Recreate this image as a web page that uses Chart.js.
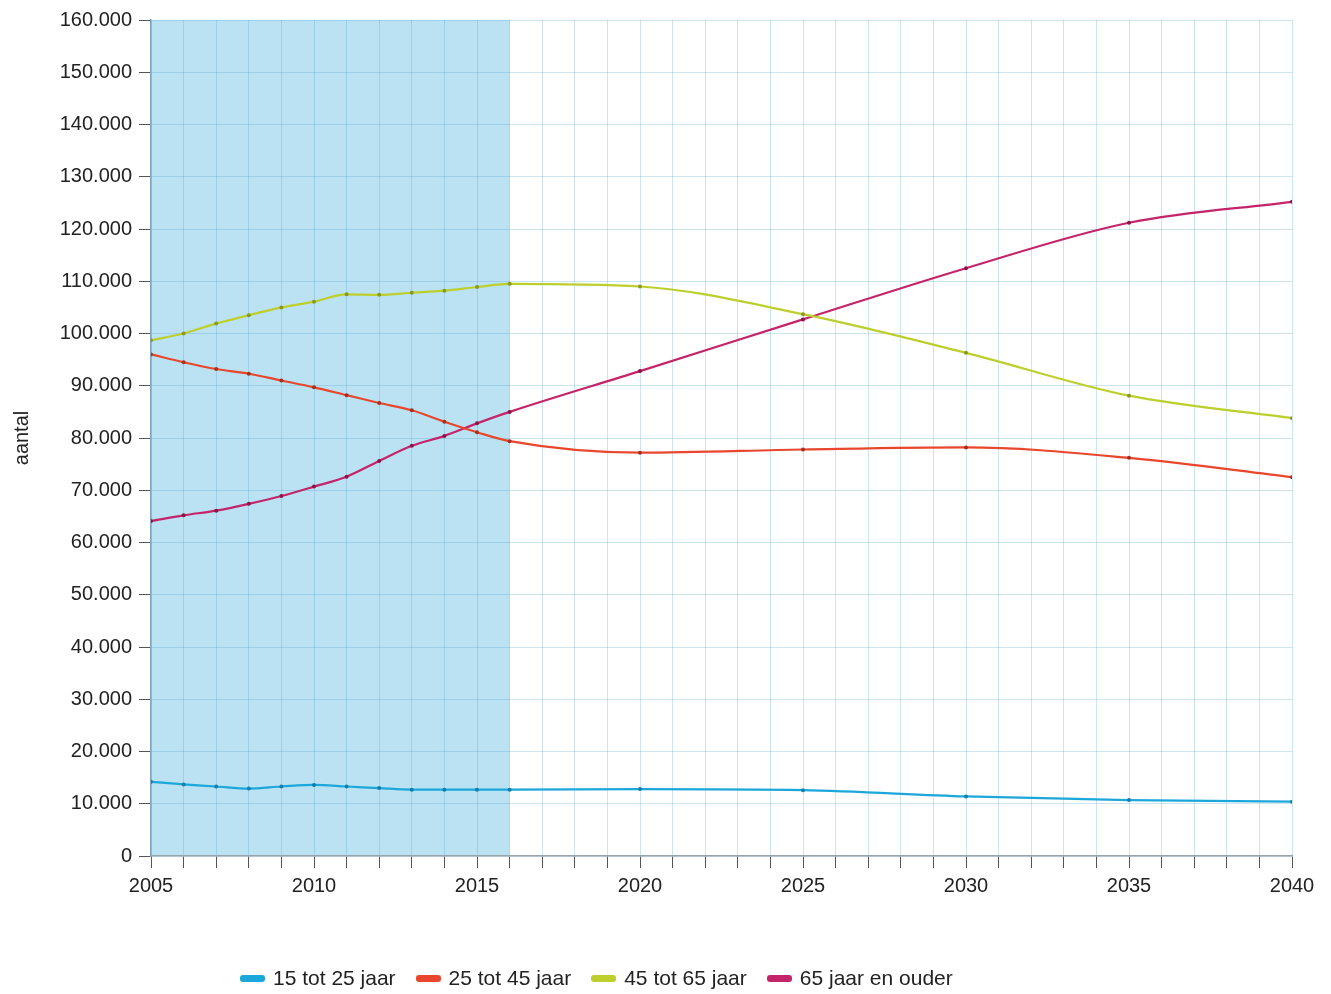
<!DOCTYPE html>
<html>
<head>
<meta charset="utf-8">
<script src="https://cdn.jsdelivr.net/npm/chart.js@4"></script>
<style>
  body { margin: 0; background: #fff; }
  #wrap { position: relative; width: 1331px; height: 994px; }
  #legend { position: absolute; left: 240px; top: 966px; display: flex; font: 21px "Liberation Sans", Arial, sans-serif; color: #222; }
  #legend span.item { display: flex; align-items: center; margin-right: 20px; }
  #legend span.sw { display: inline-block; width: 25px; height: 7px; border-radius: 3px; margin-right: 8px; }
</style>
</head>
<body>
<div id="wrap">
  <canvas id="chart" width="1331" height="994"></canvas>
  <div id="legend"></div>
</div>
<script>
// jaren met datapunten
const years = [2005, 2006, 2007, 2008, 2009, 2010, 2011, 2012, 2013, 2014, 2015, 2016, 2020, 2025, 2030, 2035, 2040];

const age15to25 = [14200, 13700, 13300, 12900, 13300, 13600, 13300, 13000, 12700, 12700, 12700, 12700, 12800, 12600, 11400, 10700, 10400];
const age25to45 = [96000, 94500, 93200, 92300, 91000, 89700, 88200, 86700, 85300, 83100, 81100, 79400, 77200, 77800, 78200, 76200, 72500];
const age45to65 = [98700, 100000, 101900, 103500, 105000, 106100, 107500, 107400, 107800, 108200, 108900, 109500, 109000, 103700, 96300, 88100, 83800];
const age65plus = [64100, 65200, 66100, 67400, 68900, 70700, 72600, 75600, 78500, 80400, 82800, 85000, 92800, 102700, 112500, 121200, 125200];

const seriesNames = ['15 tot 25 jaar', '25 tot 45 jaar', '45 tot 65 jaar', '65 jaar en ouder'];
const seriesColors = ['#1ca7da', '#e8472d', '#bccf2c', '#c4246a'];
const pointColors = ['#0f7fae', '#a8301c', '#8a9a1a', '#8c1446'];

const yTicks = [0, 10000, 20000, 30000, 40000, 50000, 60000, 70000, 80000, 90000, 100000, 110000, 120000, 130000, 140000, 150000, 160000];
const shadeFrom = 2005, shadeTo = 2016;

function fmt(v) {
    return String(v).replace(/\B(?=(\d{3})+(?!\d))/g, '.');
}

const allSeries = [age15to25, age25to45, age45to65, age65plus];
const datasets = allSeries.map((vals, i) => ({
    label: seriesNames[i],
    data: years.map((y, j) => ({ x: y, y: vals[j] })),
    borderColor: seriesColors[i],
    borderWidth: 2.2,
    pointRadius: 2,
    pointBorderWidth: 0,
    pointBackgroundColor: pointColors[i],
    cubicInterpolationMode: 'monotone',
    fill: false
}));

// lichtblauwe achtergrond voor de waargenomen periode
const shadePlugin = {
    id: 'shade',
    beforeDraw(chart) {
        const { ctx, chartArea, scales } = chart;
        const x1 = scales.x.getPixelForValue(shadeFrom);
        const x2 = scales.x.getPixelForValue(shadeTo);
        ctx.save();
        ctx.fillStyle = '#bbe2f3';
        ctx.fillRect(x1, chartArea.top, x2 - x1, chartArea.bottom - chartArea.top);
        ctx.restore();
    }
};

const font = { family: '"Liberation Sans", Arial, sans-serif' };

new Chart(document.getElementById('chart'), {
    type: 'line',
    data: { datasets },
    plugins: [shadePlugin],
    options: {
        responsive: false,
        animation: false,
        layout: { padding: { top: 20, right: 39, left: 0, bottom: 0 } },
        plugins: { legend: { display: false }, tooltip: { enabled: false } },
        scales: {
            x: {
                type: 'linear',
                min: 2005,
                max: 2040,
                afterFit(s) { s.height = 138; },
                border: { color: '#9aa4ab', width: 1.5 },
                grid: { color: 'rgba(90,165,210,0.3)', tickColor: '#555', tickLength: 12, lineWidth: 1 },
                ticks: {
                    stepSize: 1,
                    autoSkip: false,
                    maxRotation: 0,
                    padding: 6,
                    color: '#222',
                    font: { ...font, size: 20 },
                    callback: v => (v % 5 === 0 ? String(v) : '')
                }
            },
            y: {
                min: 0,
                max: 160000,
                afterFit(s) { s.width = 151; },
                afterBuildTicks(s) { s.ticks = yTicks.map(v => ({ value: v })); },
                border: { color: '#7fa3bd', width: 1.5 },
                grid: { color: 'rgba(90,165,210,0.3)', tickColor: '#555', tickLength: 12, lineWidth: 1 },
                ticks: {
                    padding: 7,
                    color: '#222',
                    font: { ...font, size: 20 },
                    callback: v => fmt(v)
                },
                title: {
                    display: true,
                    text: 'aantal',
                    color: '#222',
                    font: { ...font, size: 20 },
                    padding: { top: 10, bottom: 0 }
                }
            }
        }
    }
});

// legenda onder de grafiek
const legend = document.getElementById('legend');
seriesNames.forEach((name, i) => {
    const item = document.createElement('span');
    item.className = 'item';
    item.innerHTML = '<span class="sw" style="background:' + seriesColors[i] + '"></span>' + name;
    legend.appendChild(item);
});
</script>
</body>
</html>
